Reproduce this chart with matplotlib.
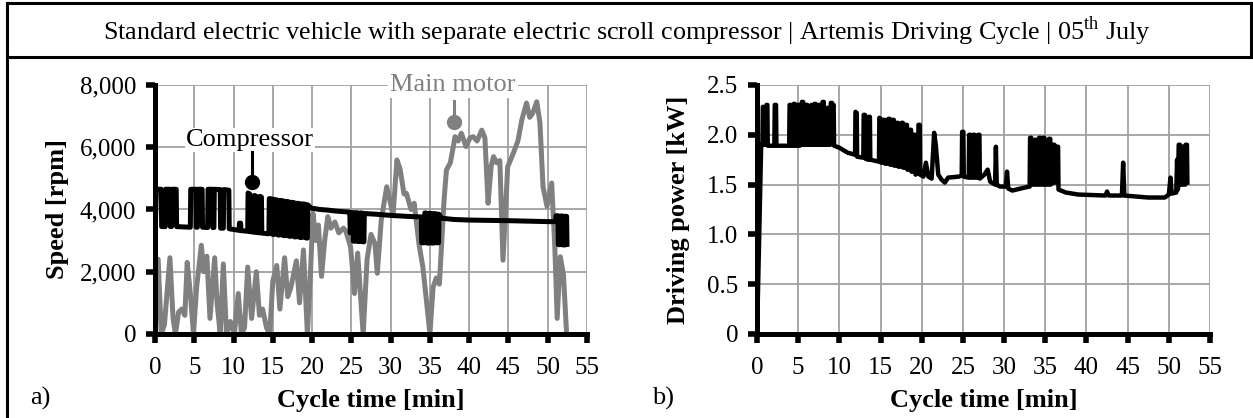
import numpy as np
import matplotlib
matplotlib.use("Agg")
import matplotlib.pyplot as plt
from matplotlib.ticker import FuncFormatter

plt.rcParams['font.family'] = ['Liberation Serif', 'DejaVu Serif']
plt.rcParams['mathtext.fontset'] = 'custom'
plt.rcParams['mathtext.rm'] = 'Liberation Serif'

# ---- data ----
comp_time = [0, 0.05, 0.15, 0.8, 0.85, 1.3, 1.35, 1.9, 1.95, 2.1, 2.15, 2.7, 2.75,
             4.5, 4.55, 5.2, 5.25, 5.4, 5.45, 6.0, 6.05, 6.7, 6.75, 7.3, 7.35, 7.5, 7.55,
             8.3, 8.35, 8.7, 8.75, 9.4, 9.45, 10.7, 10.75, 10.9, 10.95, 11.8, 11.85,
             12.05, 12.1, 12.6, 12.65, 12.85, 12.9, 13.3, 13.35, 13.55, 13.6, 14.5, 14.55,
             14.9, 14.95, 15.2, 15.25, 15.6, 15.65, 15.9, 15.95, 16.3, 16.35, 16.6, 16.65,
             17.0, 17.05, 17.3, 17.35, 17.7, 17.75, 18.0, 18.05, 18.4, 18.45, 18.7, 18.75,
             19.1, 19.15, 19.4, 19.45, 19.7, 19.75, 21, 22, 23, 24.5, 24.8, 24.85, 25.0,
             25.05, 25.2, 25.25, 25.5, 25.55, 25.8, 25.85, 26.1, 26.15, 26.45, 26.5, 26.6,
             26.65, 28, 30, 32, 33.9, 33.95, 34.3, 34.35, 34.6, 34.65, 34.9, 34.95, 35.2,
             35.25, 35.5, 35.55, 35.8, 35.85, 36.1, 36.15, 36.5, 38, 40, 45, 50, 51.0,
             51.05, 51.3, 51.35, 51.6, 51.65, 51.9, 51.95, 52.2, 52.25, 52.4, 52.45]
comp_speed = [0, 3450, 4650, 4650, 3450, 3450, 4650, 4650, 3450, 3450, 4650, 4650, 3450,
              3430, 4650, 4650, 3430, 3430, 4650, 4650, 3430, 3420, 4650, 4650, 3420, 3420, 4650,
              4640, 3400, 3400, 4640, 4620, 3380, 3330, 3560, 3560, 3320, 3300, 4530,
              4500, 3290, 3270, 4450, 4430, 3260, 3250, 4420, 4400, 3240, 3220, 4350,
              4340, 3200, 3200, 4320, 4300, 3180, 3180, 4290, 4280, 3160, 3160, 4260,
              4250, 3140, 3140, 4230, 4220, 3120, 3120, 4200, 4190, 3100, 3100, 4180,
              4170, 3090, 3080, 4150, 4080, 4050, 4000, 3980, 3950, 3920, 3910, 3250, 3250,
              3900, 3900, 2980, 2980, 3900, 3890, 2970, 2970, 3890, 3880, 2960, 2960,
              3870, 3850, 3810, 3780, 3760, 2930, 2930, 3890, 3880, 2920, 2920, 3880, 3870,
              2920, 2920, 3870, 3860, 2930, 2930, 3850, 3720, 3680, 3660, 3640, 3610, 3610,
              3800, 3800, 2870, 2870, 3790, 3790, 2860, 2860, 3780, 3780, 2880]

motor_time = [0, 0.4, 0.8, 1.2, 1.9, 2.3, 2.6, 3.0, 3.4, 3.8, 4.1, 4.5, 4.9, 5.3, 5.9,
              6.2, 6.6, 7.0, 7.6, 7.9, 8.3, 8.7, 9.1, 9.6, 10.1, 10.6, 11.0, 11.4, 11.8,
              12.3, 12.9, 13.3, 13.7, 14.2, 14.6, 15.0, 15.5, 15.9, 16.5, 16.9, 17.3,
              18.0, 18.4, 18.9, 19.4, 19.8, 20.1, 20.5, 20.8, 21.2, 21.6, 22.0, 22.4,
              22.9, 23.4, 24.0, 24.3, 24.9, 25.4, 25.8, 26.5, 27.0, 27.5, 28.0, 28.3,
              28.8, 29.5, 29.9, 30.3, 30.8, 31.2, 31.7, 32.0, 32.6, 33.0, 33.6, 34.1,
              34.5, 35.0, 35.4, 35.8, 36.2, 36.8, 37.1, 37.6, 38.2, 38.6, 39.0, 39.6,
              40.1, 40.5, 41.0, 41.6, 42.0, 42.4, 42.8, 43.1, 43.5, 43.9, 44.3, 44.9,
              45.6, 46.2, 46.7, 47.3, 47.7, 48.1, 48.6, 49.0, 49.4, 49.9, 50.5, 50.9,
              51.2, 51.6, 52.0, 52.4]
motor_speed = [0, 2400, 0, 300, 2450, 500, 0, 700, 800, 600, 2300, 1300, 0, 1500, 2850,
               2000, 2500, 500, 2450, 1000, 0, 2250, 0, 400, 0, 1300, 0, 200, 2150,
               500, 2000, 600, 800, 200, 0, 1700, 2200, 800, 2450, 1200, 1500,
               2350, 1000, 2700, 0, 2000, 3880, 3000, 3500, 1850, 3000, 3770, 3400,
               3600, 3250, 3400, 3300, 2800, 1300, 2600, 0, 2400, 3200, 2900, 1950,
               3650, 4730, 4300, 3800, 5590, 5300, 4500, 4520, 4000, 4200, 2900, 2150,
               1200, 0, 1500, 1800, 1600, 4300, 5270, 5500, 6340, 6200, 6450, 6020,
               6300, 6340, 6200, 6550, 6300, 4200, 5400, 5700, 5500, 5570, 2370, 5370,
               5800, 6200, 6880, 7420, 6960, 7100, 7460, 6800, 4730, 4100, 4850, 2800,
               500, 2480, 1900, 0]

power_time = [0, 0.5, 0.65, 0.7, 0.8, 0.85, 1.1, 1.15, 1.25, 1.3, 2.1, 2.15, 2.3, 2.35,
              3.9, 3.95, 4.1, 4.15, 4.4, 4.45, 4.6, 4.65, 4.9, 4.95, 5.1, 5.15, 5.4, 5.45,
              5.6, 5.65, 5.9, 5.95, 6.1, 6.15, 6.4, 6.45, 6.6, 6.65, 6.9, 6.95, 7.1, 7.15,
              7.4, 7.45, 7.6, 7.65, 7.9, 7.95, 8.1, 8.15, 8.4, 8.45, 8.6, 8.65, 8.9, 8.95,
              9.1, 9.2, 9.3, 9.35, 10.0, 11.0, 11.9, 11.95, 12.1, 12.15, 12.9, 12.95, 13.1,
              13.15, 13.5, 13.55, 13.7, 13.75, 14.8, 14.85, 15.0, 15.05, 15.3, 15.35, 15.5,
              15.55, 15.9, 15.95, 16.1, 16.15, 16.4, 16.45, 16.6, 16.65, 16.9, 16.95, 17.1,
              17.15, 17.5, 17.55, 17.7, 17.75, 18.0, 18.05, 18.2, 18.25, 18.5, 18.55, 18.7,
              18.75, 19.0, 19.05, 19.2, 19.25, 19.55, 19.6, 19.75, 19.8, 20.2, 20.5, 20.8,
              21.2, 21.5, 21.7, 22.0, 22.4, 22.8, 23.2, 24.5, 24.85, 24.9, 25.05, 25.1,
              25.7, 25.75, 25.9, 25.95, 26.2, 26.25, 26.4, 26.45, 26.8, 26.85, 27.0, 27.05,
              27.6, 28.0, 28.3, 28.9, 29.0, 29.1, 29.5, 30.2, 30.35, 30.5, 31.0, 31.5,
              32.5, 33.1, 33.15, 33.3, 33.35, 33.7, 33.75, 33.9, 33.95, 34.2, 34.25, 34.4,
              34.45, 34.7, 34.75, 34.9, 34.95, 35.4, 35.45, 35.6, 35.65, 35.9, 35.95, 36.1,
              36.15, 36.35, 36.4, 36.55, 36.6, 37.5, 39.0, 42.3, 42.5, 42.7, 44.3, 44.45,
              44.6, 46.0, 47.5, 49.5, 50.0, 50.2, 50.35, 50.9, 51.0, 51.1, 51.2, 51.35,
              51.4, 51.55, 51.6, 51.75, 51.8, 52.0, 52.05, 52.2, 52.25]
power_kw = [0, 1.9, 1.9, 2.28, 2.28, 1.9, 1.9, 2.3, 2.3, 1.89, 1.89, 2.3, 2.3, 1.89,
            1.89, 2.3, 2.3, 1.89, 1.89, 2.31, 2.31, 1.89, 1.89, 2.3, 2.3, 1.89, 1.9, 2.33,
            2.33, 1.9, 1.9, 2.3, 2.3, 1.9, 1.9, 2.28, 2.3, 1.9, 1.9, 2.31, 2.31, 1.9,
            1.9, 2.3, 2.3, 1.9, 1.9, 2.33, 2.33, 1.9, 1.9, 2.27, 2.27, 1.9, 1.9, 2.32,
            2.32, 2.28, 2.3, 1.89, 1.87, 1.82, 1.8, 2.23, 2.22, 1.78, 1.77, 2.2, 2.2,
            1.76, 1.75, 2.18, 2.18, 1.75, 1.73, 2.17, 2.16, 1.72, 1.72, 2.15, 2.15,
            1.71, 1.71, 2.16, 2.16, 1.7, 1.7, 2.15, 2.15, 1.69, 1.69, 2.12, 2.12,
            1.68, 1.68, 2.12, 2.12, 1.67, 1.67, 2.1, 2.1, 1.65, 1.65, 2.05, 2.05,
            1.63, 1.63, 2.0, 2.0, 1.6, 1.62, 2.1, 2.1, 1.6, 1.58, 1.72, 1.58,
            1.56, 2.02, 1.9, 1.6, 1.55, 1.52, 1.57, 1.58, 1.59, 2.03, 2.03, 1.58,
            1.57, 2.0, 2.0, 1.57, 1.57, 2.0, 2.0, 1.57, 1.57, 2.0, 2.0, 1.56,
            1.6, 1.65, 1.53, 1.5, 1.88, 1.5, 1.48, 1.48, 1.63, 1.46, 1.44, 1.45,
            1.47, 1.48, 1.97, 1.97, 1.5, 1.5, 1.95, 1.95, 1.5, 1.5, 1.97, 1.97,
            1.5, 1.5, 1.97, 1.97, 1.5, 1.5, 1.96, 1.96, 1.5, 1.52, 1.9, 1.9,
            1.52, 1.52, 1.88, 1.88, 1.45, 1.42, 1.4, 1.39, 1.43, 1.39, 1.39, 1.72,
            1.39, 1.38, 1.37, 1.37, 1.4, 1.57, 1.41, 1.42, 1.75, 1.45, 1.9, 1.9,
            1.5, 1.5, 1.88, 1.88, 1.5, 1.5, 1.9, 1.9, 1.52]

x_ticks = np.arange(0, 56, 5)
speed_ticks = [0, 2000, 4000, 6000, 8000]
power_ticks = [0, 0.5, 1.0, 1.5, 2.0, 2.5]

title = "Standard electric vehicle with separate electric scroll compressor | Artemis Driving Cycle | 05$^{\\mathrm{th}}$ July"

GREY = "#808080"
GRID = "#a0a0a0"

fig = plt.figure(figsize=(12.53, 4.18), dpi=100)


def style_axes(ax, yticks):
    ax.set_xlim(0, 55)
    ax.set_ylim(yticks[0], yticks[-1])
    ax.set_xticks(x_ticks)
    ax.set_yticks(yticks)
    ax.grid(True, color=GRID, linewidth=1.3, zorder=0)
    ax.set_axisbelow(True)
    for s in ("top", "right"):
        ax.spines[s].set_visible(False)
    for s in ("left", "bottom"):
        ax.spines[s].set_linewidth(3.6)
        ax.spines[s].set_zorder(5)
    ax.tick_params(direction="out", length=6.5, width=4, labelsize=18)
    ax.tick_params(axis="x", pad=10)
    ax.tick_params(axis="y", pad=7)
    ax.set_xlabel("Cycle time [min]", fontsize=19, fontweight="bold", labelpad=7)


# ---- a) speed ----
ax1 = fig.add_axes([0.1237, 0.201, 0.3448, 0.5957])
ax1.plot(motor_time, motor_speed, color=GREY, lw=3.6, zorder=2, solid_joinstyle="round")
ax1.plot(comp_time, comp_speed, color="black", lw=3.6, zorder=3, solid_joinstyle="round")
style_axes(ax1, speed_ticks)
ax1.yaxis.set_major_formatter(FuncFormatter(lambda v, p: f"{int(v):,}"))
ax1.set_ylabel("Speed [rpm]", fontsize=19, fontweight="bold", labelpad=8)

ax1.text(12.1, 6230, "Compressor", fontsize=19, ha="center", va="center", color="black",
         bbox=dict(facecolor="white", edgecolor="none", pad=1), zorder=4)
ax1.plot([12.35, 12.35], [5850, 4880], color="black", lw=2.2, zorder=4)
ax1.plot([12.35], [4880], "o", color="black", ms=10, zorder=4)

ax1.text(37.9, 8000, "Main motor", fontsize=19, ha="center", va="center", color=GREY,
         bbox=dict(facecolor="white", edgecolor="none", pad=1.5), zorder=4, clip_on=False)
ax1.plot([38.1, 38.1], [7500, 6810], color=GREY, lw=2.2, zorder=4)
ax1.plot([38.1], [6810], "o", color=GREY, ms=10, zorder=4)

# ---- b) power ----
ax2 = fig.add_axes([0.6042, 0.201, 0.3615, 0.5957])
ax2.plot(power_time, power_kw, color="black", lw=3.2, zorder=3, solid_joinstyle="round")
style_axes(ax2, power_ticks)
ax2.yaxis.set_major_formatter(FuncFormatter(lambda v, p: "0" if v == 0 else f"{v:.1f}"))
ax2.set_ylabel("Driving power [kW]", fontsize=19, fontweight="bold", labelpad=12)

# ---- frame and title ----
fig.add_artist(plt.Line2D([7 / 1253, 7 / 1253], [0, 1 - 3 / 418], color="black", lw=2.2))
fig.add_artist(plt.Line2D([7 / 1253, 1251 / 1253], [1 - 3 / 418, 1 - 3 / 418], color="black", lw=2.2))
fig.add_artist(plt.Line2D([1251 / 1253, 1251 / 1253], [1 - 57 / 418, 1 - 3 / 418], color="black", lw=2.2))
fig.add_artist(plt.Line2D([7 / 1253, 1251 / 1253], [1 - 57 / 418, 1 - 57 / 418], color="black", lw=2.2))
fig.text(0.5, 1 - 31 / 418, title, ha="center", va="center", fontsize=18.8)

fig.text(30 / 1253, 1 - 398 / 418, "a)", ha="left", va="center", fontsize=19)
fig.text(652 / 1253, 1 - 398 / 418, "b)", ha="left", va="center", fontsize=19)

fig.savefig("out.png", dpi=100)
